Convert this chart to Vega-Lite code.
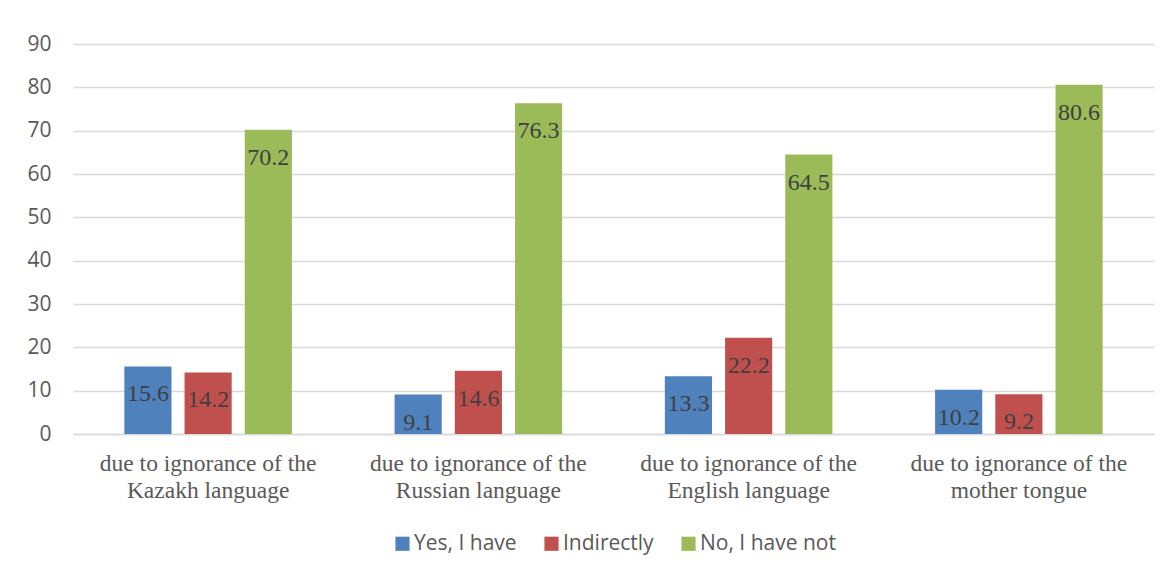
{
  "$schema": "https://vega.github.io/schema/vega-lite/v6.json",
  "width": 1081,
  "height": 390,
  "autosize": {"type": "none"},
  "padding": {"left": 73, "top": 44, "right": 16, "bottom": 140},
  "background": "white",
  "data": {
    "values": [
      {"category": "due to ignorance of the Kazakh language", "series": "Yes, I have", "value": 15.6},
      {"category": "due to ignorance of the Kazakh language", "series": "Indirectly", "value": 14.2},
      {"category": "due to ignorance of the Kazakh language", "series": "No, I have not", "value": 70.2},
      {"category": "due to ignorance of the Russian language", "series": "Yes, I have", "value": 9.1},
      {"category": "due to ignorance of the Russian language", "series": "Indirectly", "value": 14.6},
      {"category": "due to ignorance of the Russian language", "series": "No, I have not", "value": 76.3},
      {"category": "due to ignorance of the English language", "series": "Yes, I have", "value": 13.3},
      {"category": "due to ignorance of the English language", "series": "Indirectly", "value": 22.2},
      {"category": "due to ignorance of the English language", "series": "No, I have not", "value": 64.5},
      {"category": "due to ignorance of the mother tongue", "series": "Yes, I have", "value": 10.2},
      {"category": "due to ignorance of the mother tongue", "series": "Indirectly", "value": 9.2},
      {"category": "due to ignorance of the mother tongue", "series": "No, I have not", "value": 80.6}
    ]
  },
  "encoding": {
    "x": {
      "field": "category",
      "type": "nominal",
      "sort": null,
      "scale": {"paddingInner": 0.38, "paddingOuter": 0.19},
      "axis": {
        "title": null,
        "labelAngle": 0,
        "labelLimit": 0,
        "labelExpr": "[slice(datum.label, 0, 23), slice(datum.label, 24)]",
        "labelFont": "Liberation Serif",
        "labelFontSize": 23.5,
        "labelLineHeight": 27,
        "labelColor": "#595959",
        "labelPadding": 17,
        "ticks": false,
        "domainColor": "#d9d9d9",
        "domainWidth": 1.5
      }
    },
    "xOffset": {
      "field": "series",
      "type": "nominal",
      "sort": ["Yes, I have", "Indirectly", "No, I have not"],
      "scale": {"paddingInner": 0.217, "paddingOuter": 0}
    },
    "y": {
      "field": "value",
      "type": "quantitative",
      "scale": {"domain": [0, 90]},
      "axis": {
        "title": null,
        "values": [0, 10, 20, 30, 40, 50, 60, 70, 80, 90],
        "domain": false,
        "ticks": false,
        "labelFont": "Open Sans",
        "labelFontSize": 21,
        "labelColor": "#595959",
        "labelPadding": 22,
        "gridColor": "#d9d9d9",
        "gridWidth": 1.5
      }
    }
  },
  "layer": [
    {
      "mark": {"type": "bar"},
      "encoding": {
        "color": {
          "field": "series",
          "type": "nominal",
          "sort": ["Yes, I have", "Indirectly", "No, I have not"],
          "scale": {
            "domain": ["Yes, I have", "Indirectly", "No, I have not"],
            "range": ["#4F81BD", "#C0504D", "#9BBB59"]
          },
          "legend": {
            "title": null,
            "orient": "bottom",
            "direction": "horizontal",
            "symbolType": "square",
            "symbolSize": 200,
            "symbolStrokeWidth": 0,
            "labelFont": "Open Sans",
            "labelFontSize": 21,
            "labelColor": "#595959",
            "labelOffset": 1,
            "columnPadding": 24,
            "offset": 31
          }
        }
      }
    },
    {
      "mark": {
        "type": "text",
        "baseline": "top",
        "dy": 16,
        "font": "Liberation Serif",
        "fontSize": 24,
        "color": "#404040"
      },
      "encoding": {
        "text": {"field": "value", "type": "quantitative", "format": ".1f"}
      }
    }
  ],
  "config": {
    "view": {"stroke": null},
    "legend": {"layout": {"bottom": {"anchor": "middle"}}}
  }
}
